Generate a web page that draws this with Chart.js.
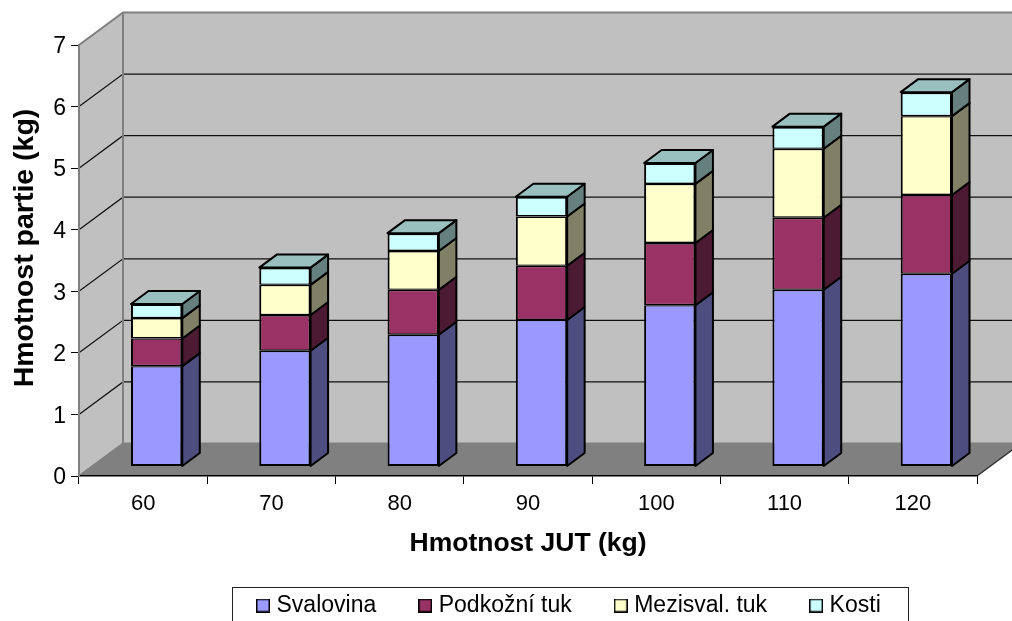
<!DOCTYPE html>
<html>
<head>
<meta charset="utf-8">
<style>
  html, body { margin: 0; padding: 0; background: #fff; }
  canvas { display: block; }
</style>
<script src="https://cdn.jsdelivr.net/npm/chart.js@4"></script>
</head>
<body>
<canvas id="chart" width="1012" height="621"></canvas>
<script>
const categories = ["60", "70", "80", "90", "100", "110", "120"];
const svalovina = [1.63, 1.88, 2.14, 2.38, 2.62, 2.87, 3.13];
const podkozniTuk = [0.45, 0.58, 0.73, 0.88, 1.01, 1.17, 1.28];
const mezisvalTuk = [0.33, 0.49, 0.63, 0.80, 0.96, 1.12, 1.28];
const kosti = [0.23, 0.28, 0.29, 0.32, 0.34, 0.36, 0.39];

const seriesNames = ["Svalovina", "Podkožní tuk", "Mezisval. tuk", "Kosti"];
const frontColors = ["#9999FF", "#993366", "#FFFFCC", "#CCFFFF"];
const sideColors = ["#4D4D80", "#4D1A33", "#808066", "#668080"];
const topColor = "#99BFBF";

const FONT = "'Liberation Sans', Arial, sans-serif";

// depth of the fake 3D box, and where the bars sit inside it
const WALL_DX = 44, WALL_DY = -32.5;
const BAR_DX = 13.5, BAR_DY = -9.5;
const SIDE_DX = 17.5, SIDE_DY = -13;

function makeSwatch(color) {
  const c = document.createElement("canvas");
  c.width = 14;
  c.height = 14;
  const g = c.getContext("2d");
  g.fillStyle = color;
  g.fillRect(0, 0, 14, 14);
  g.strokeStyle = "#000";
  g.lineWidth = 1.5;
  g.strokeRect(0.75, 0.75, 12.5, 12.5);
  return c;
}

function poly(ctx, pts, fill, stroke, width) {
  ctx.beginPath();
  pts.forEach((p, i) => (i ? ctx.lineTo(p[0], p[1]) : ctx.moveTo(p[0], p[1])));
  ctx.closePath();
  if (fill) {
    ctx.fillStyle = fill;
    ctx.fill();
  }
  if (stroke) {
    ctx.strokeStyle = stroke;
    ctx.lineWidth = width;
    ctx.lineJoin = "round";
    ctx.stroke();
  }
}

const box3d = {
  id: "box3d",
  afterLayout(chart) {
    // move the legend to where the original has it
    const lg = chart.legend;
    lg.left = 214;
    lg.right = 1012;
    lg.top = 547;
  },
  beforeDraw(chart) {
    const ctx = chart.ctx;
    const a = chart.chartArea;
    const y = chart.scales.y;
    const bx0 = a.left + WALL_DX, bx1 = a.right + WALL_DX;

    // back wall, left wall, floor
    poly(ctx, [[bx0, a.top + WALL_DY], [bx1, a.top + WALL_DY], [bx1, a.bottom + WALL_DY], [bx0, a.bottom + WALL_DY]], "#C0C0C0");
    poly(ctx, [[a.left, a.top], [bx0, a.top + WALL_DY], [bx0, a.bottom + WALL_DY], [a.left, a.bottom]], "#C0C0C0");
    poly(ctx, [[a.left, a.bottom], [bx0, a.bottom + WALL_DY], [bx1, a.bottom + WALL_DY], [a.right, a.bottom]], "#808080");

    // gridlines go across the side wall and the back wall
    y.ticks.forEach(t => {
      if (t.value === 0 || t.value === 7) return;
      const py = y.getPixelForValue(t.value);
      ctx.beginPath();
      ctx.moveTo(a.left, py);
      ctx.lineTo(bx0, py + WALL_DY);
      ctx.lineTo(bx1, py + WALL_DY);
      ctx.strokeStyle = "#111";
      ctx.lineWidth = 1.2;
      ctx.stroke();
    });

    ctx.strokeStyle = "#808080";
    ctx.lineWidth = 2;
    ctx.beginPath();
    ctx.moveTo(a.left, a.top);
    ctx.lineTo(bx0, a.top + WALL_DY);
    ctx.lineTo(bx1, a.top + WALL_DY);
    ctx.moveTo(bx0, a.top + WALL_DY);
    ctx.lineTo(bx0, a.bottom + WALL_DY);
    ctx.lineTo(bx1, a.bottom + WALL_DY);
    ctx.moveTo(bx0, a.bottom + WALL_DY);
    ctx.lineTo(a.left, a.bottom);
    ctx.stroke();
    ctx.strokeStyle = "#333";
    ctx.lineWidth = 1.5;
    ctx.beginPath();
    ctx.moveTo(a.right, a.bottom);
    ctx.lineTo(bx1, a.bottom + WALL_DY);
    ctx.stroke();

    // legend frame
    ctx.strokeStyle = "#222";
    ctx.lineWidth = 1;
    ctx.strokeRect(232.5, 587.5, 676, 50);

    // y axis title, sits higher than the axis centre in the original
    ctx.save();
    ctx.translate(25, 248);
    ctx.rotate(-Math.PI / 2);
    ctx.fillStyle = "#000";
    ctx.font = "bold 28.5px " + FONT;
    ctx.textAlign = "center";
    ctx.textBaseline = "middle";
    ctx.fillText("Hmotnost partie (kg)", 0, 0);
    ctx.restore();
  },
  beforeDatasetsDraw(chart) {
    const ctx = chart.ctx;
    ctx.save();
    ctx.translate(BAR_DX, BAR_DY);
    const last = chart.data.datasets.length - 1;
    chart.data.datasets.forEach((ds, d) => {
      chart.getDatasetMeta(d).data.forEach(bar => {
        const r = bar.x + bar.width / 2, l = bar.x - bar.width / 2;
        poly(ctx, [[r, bar.y], [r + SIDE_DX, bar.y + SIDE_DY], [r + SIDE_DX, bar.base + SIDE_DY], [r, bar.base]], sideColors[d], "#000", 2);
        if (d === last) {
          poly(ctx, [[l, bar.y], [l + SIDE_DX, bar.y + SIDE_DY], [r + SIDE_DX, bar.y + SIDE_DY], [r, bar.y]], topColor, "#000", 2);
        }
      });
    });
  },
  afterDatasetsDraw(chart) {
    chart.ctx.restore();
  }
};

const seriesValues = [svalovina, podkozniTuk, mezisvalTuk, kosti];

new Chart(document.getElementById("chart"), {
  type: "bar",
  data: {
    labels: categories,
    datasets: seriesValues.map((vals, i) => ({
      label: seriesNames[i],
      data: vals,
      backgroundColor: frontColors[i],
      borderColor: "#000",
      // seams between stacked parts share their width so they do not double up
      borderWidth: { left: 2, right: 2, top: i === 3 ? 2 : 1.4, bottom: i === 0 ? 2 : 1.4 },
      borderSkipped: false,
      categoryPercentage: 1,
      barPercentage: 0.4
    }))
  },
  plugins: [box3d],
  options: {
    responsive: false,
    animation: false,
    layout: { padding: { top: 45, right: 35, left: 0, bottom: 0 } },
    plugins: {
      title: { display: false },
      tooltip: { enabled: false },
      legend: {
        position: "bottom",
        align: "start",
        maxHeight: 1,
        labels: {
          usePointStyle: true,
          boxWidth: 4,
          padding: 47,
          color: "#000",
          font: { family: FONT, size: 23 },
          generateLabels: chart => chart.data.datasets.map((ds, i) => ({
            text: ds.label,
            fontColor: "#000",
            pointStyle: makeSwatch(frontColors[i]),
            datasetIndex: i
          }))
        }
      }
    },
    scales: {
      x: {
        stacked: true,
        afterFit: s => { s.height = 144; },
        grid: { drawOnChartArea: false, tickLength: 8, color: "#000", tickWidth: 1 },
        border: { color: "#000", width: 1.5 },
        ticks: { color: "#000", font: { family: FONT, size: 22 }, padding: 7, maxRotation: 0 },
        title: {
          display: true,
          text: "Hmotnost JUT (kg)",
          color: "#000",
          font: { family: FONT, size: 26.5, weight: "bold" },
          padding: { top: 8, bottom: 60 }
        }
      },
      y: {
        stacked: true,
        min: 0,
        max: 7,
        afterFit: s => { s.width = 79; },
        grid: { drawOnChartArea: false, tickLength: 8, color: "#000", tickWidth: 1 },
        border: { color: "#808080", width: 2 },
        ticks: { stepSize: 1, color: "#000", font: { family: FONT, size: 23 }, padding: 5, labelOffset: 2 }
      }
    }
  }
});
</script>
</body>
</html>
